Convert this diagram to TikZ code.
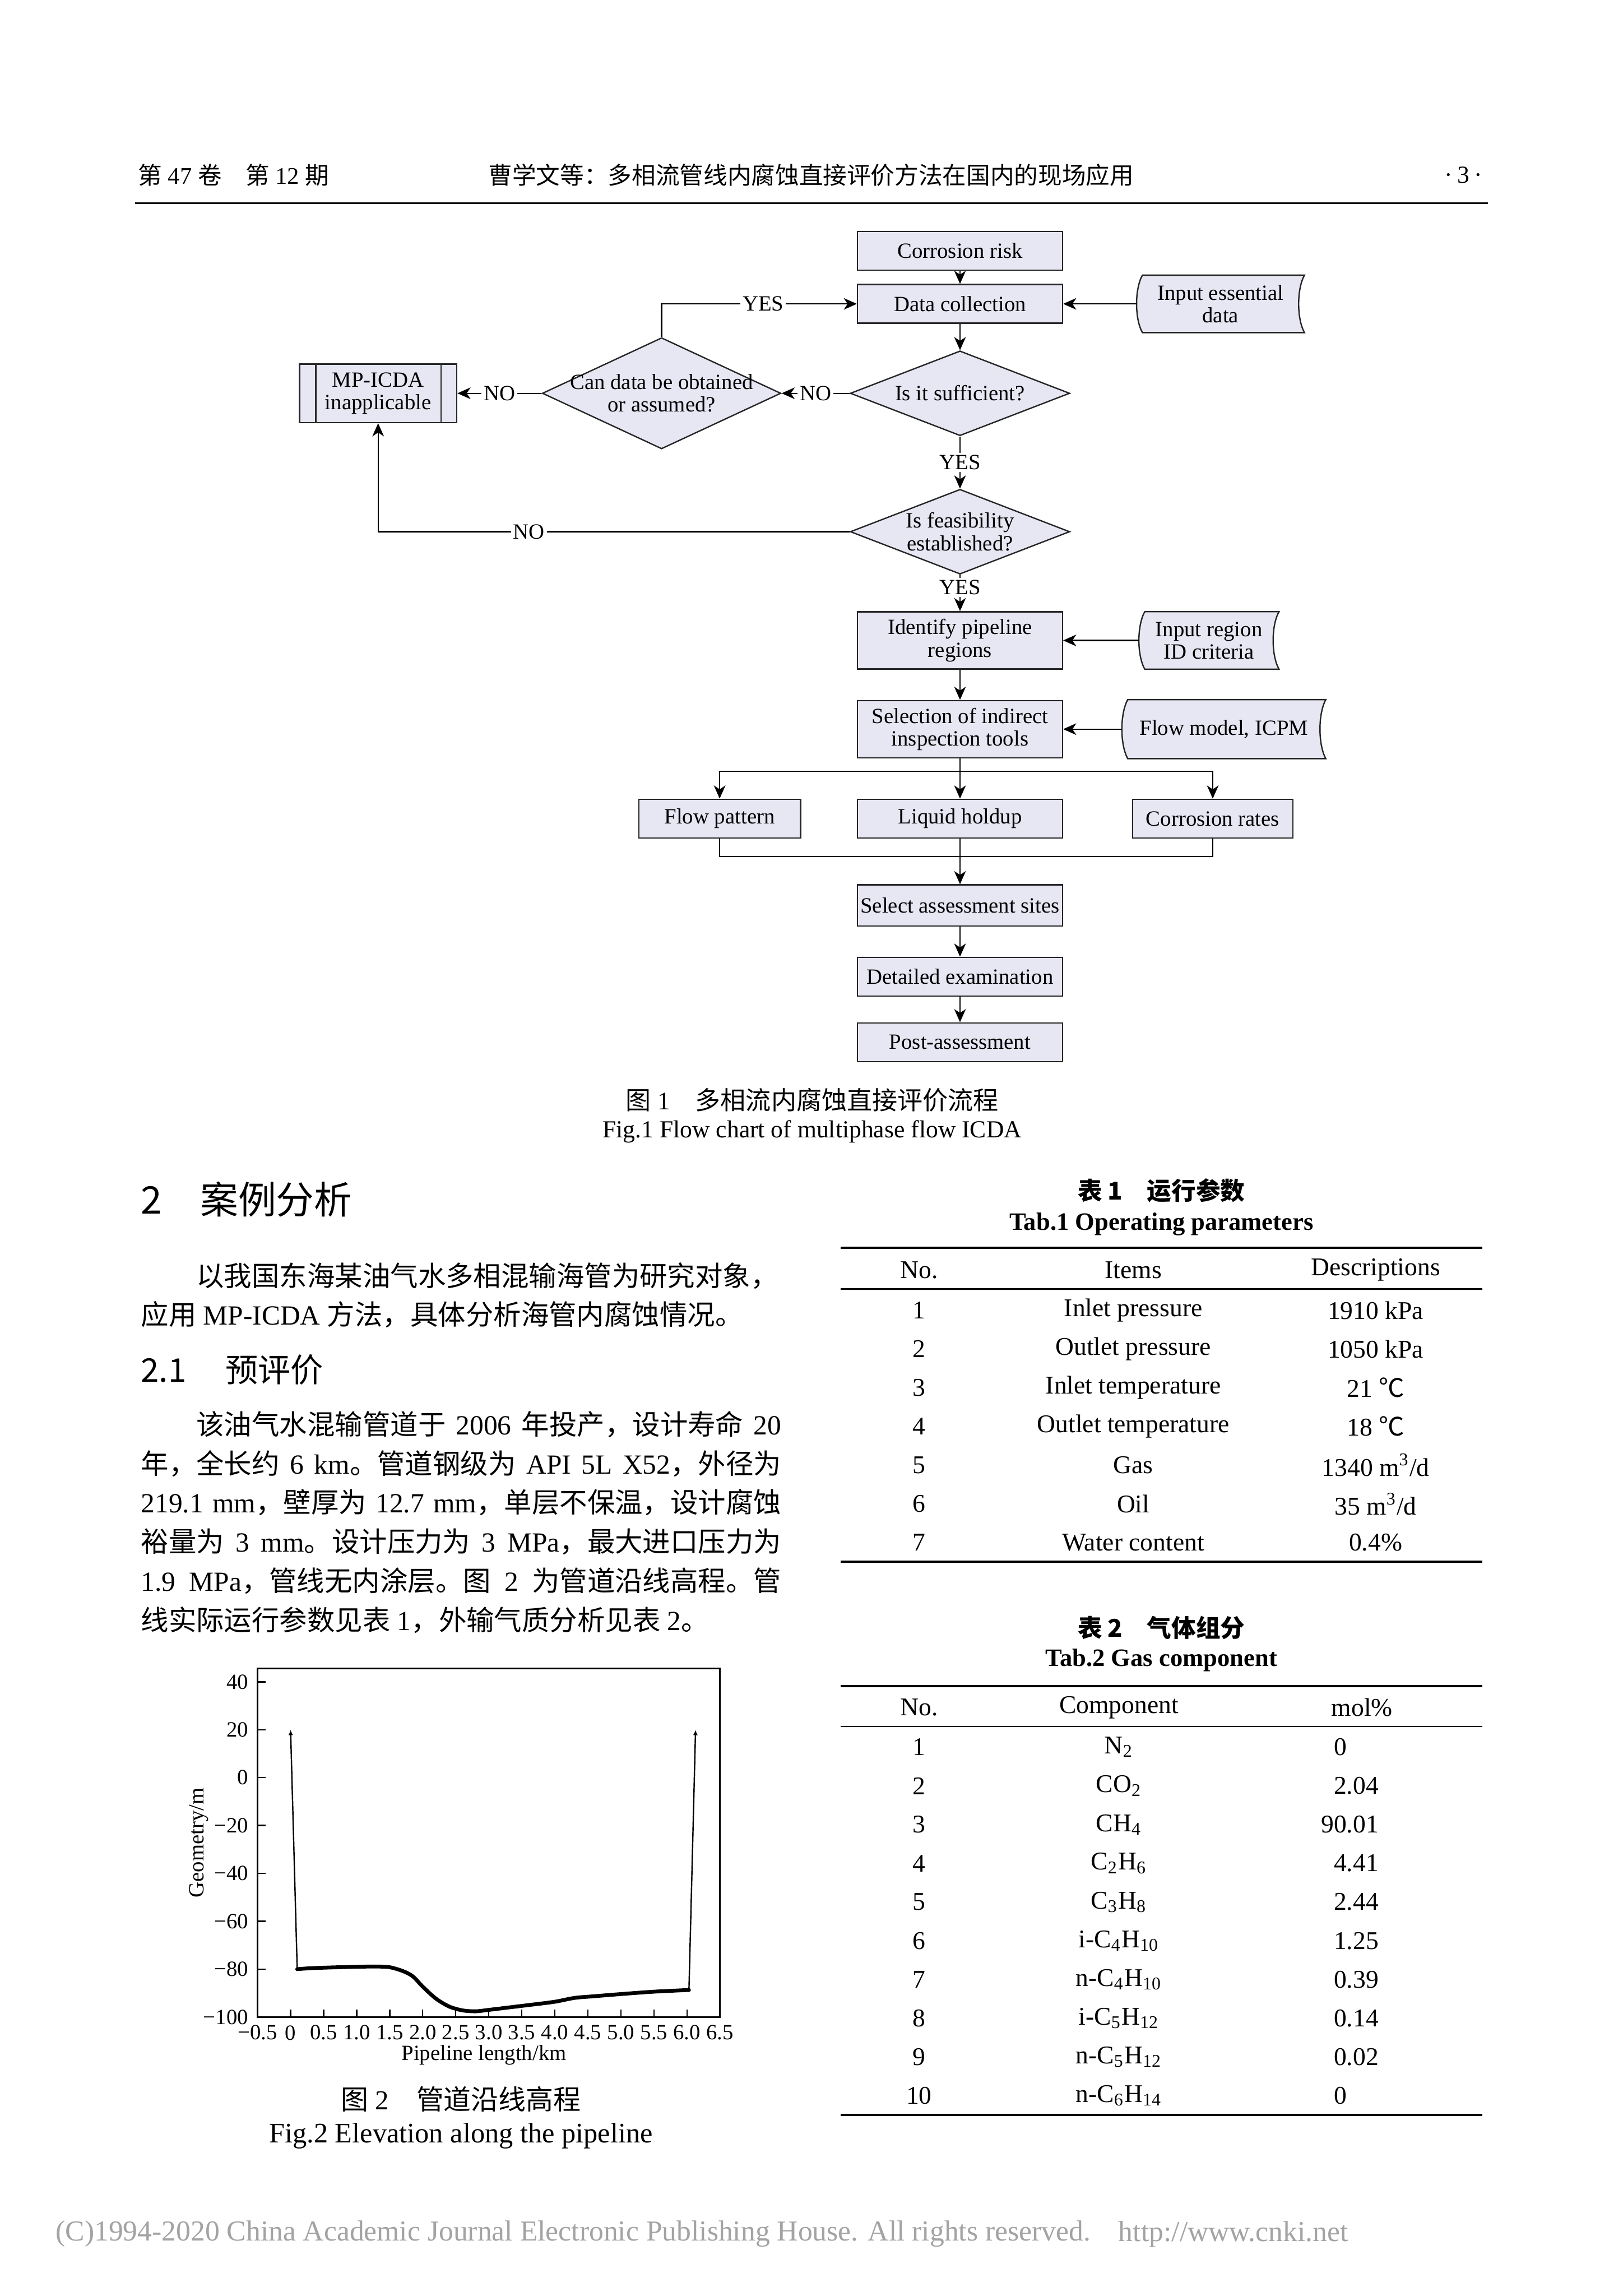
\documentclass[tikz,border=0pt]{standalone}
\usepackage{fontspec}
\setmainfont{Liberation Serif}
\newfontfamily\cjk{Noto Sans CJK SC}
\usetikzlibrary{arrows.meta,positioning,shapes.geometric,calc,backgrounds}
\definecolor{boxFill}{HTML}{E6E7F3}
\definecolor{boxLine}{HTML}{262626}
\definecolor{footGray}{HTML}{A3A3A3}
\newcommand{\zh}[1]{{\cjk #1}}
\newcommand{\flowfont}{\fontsize{8}{8.3}\selectfont}
\newcommand{\bodyfont}{\fontsize{10.2}{12}\selectfont}
\newcommand{\tabfont}{\fontsize{9.4}{11}\selectfont}
\newcommand{\plotfont}{\fontsize{8}{9}\selectfont}
\newlength{\colw}
\setlength{\colw}{8.285cm}
\XeTeXlinebreaklocale "zh"
\XeTeXlinebreakskip=0pt plus 1pt

\begin{document}
\begin{tikzpicture}[x=0.018936cm, y=-0.018936cm,
  procbox/.style={draw=boxLine,fill=boxFill,line width=0.5pt,minimum width=2.651cm,minimum height=0.5cm,inner xsep=0.5pt,inner ysep=1pt,align=center,font=\flowfont},
  twoline/.style={procbox,minimum height=0.74cm},
  decision/.style={diamond,draw=boxLine,fill=boxFill,line width=0.5pt,inner sep=0pt,minimum width=2.84cm,minimum height=1.098cm},
  dlabel/.style={align=center,font=\flowfont,inner sep=0pt},
  inputdata/.style={inner sep=0pt,align=center,font=\flowfont,minimum height=0.73cm},
  flowlbl/.style={fill=white,inner sep=0.8pt,font=\flowfont},
  arrow/.style={-{Stealth[length=1.7mm,width=1.5mm,inset=0.5mm]},line width=0.45pt},
  bodytxt/.style={anchor=west,inner sep=0pt,font=\bodyfont},
  tabtxt/.style={inner sep=0pt,font=\tabfont},
  plotlbl/.style={inner sep=0pt,font=\plotfont}]

  % page
  \useasboundingbox (0,0) rectangle (1109,1568.6);
  \begin{scope}[on background layer]
    \fill[white] (0,0) rectangle (1109,1568.6);
  \end{scope}

  % running head
  \node[anchor=west,inner sep=0pt,font=\fontsize{8.8}{10}\selectfont] (volno) at (94,119.6)
    {\zh{第} 47 \zh{卷}\hspace{1em}\zh{第} 12 \zh{期}};
  \node[anchor=west,inner sep=0pt,font=\fontsize{8.8}{10}\selectfont] (runtitle) at (333.4,119.6)
    {\zh{曹学文等：多相流管线内腐蚀直接评价方法在国内的现场应用}};
  \node[inner sep=0pt,font=\fontsize{9}{10}\selectfont] (pageno) at (1000,119.6) {·\hspace{0.2em}3\hspace{0.2em}·};
  \draw[line width=0.6pt] (92.2,138.7) -- (1016.8,138.7);

  % Fig.1 flow chart
  \node[procbox] (risk) at (656,171.3) {Corrosion risk};
  \node[procbox,below=0.17cm of risk] (collect) {Data collection};
  \node[decision,below=0.34cm of collect,label={[dlabel]center:Is it sufficient?}] (enough) {};
  \node[decision,below=0.675cm of enough,label={[dlabel]center:Is feasibility\\established?}] (feasible) {};
  \node[twoline,below=0.47cm of feasible] (regions) {Identify pipeline\\regions};
  \node[twoline,below=0.39cm of regions] (tools) {Selection of indirect\\inspection tools};
  \node[procbox,below=0.52cm of tools] (holdup) {Liquid holdup};
  \node[procbox,minimum width=2.094cm,left=0.72cm of holdup] (pattern) {Flow pattern};
  \node[procbox,minimum width=2.074cm,right=0.89cm of holdup] (rates) {Corrosion rates};
  \node[procbox,minimum height=0.53cm,below=0.59cm of holdup] (sites) {Select assessment sites};
  \node[procbox,below=0.39cm of sites] (exam) {Detailed examination};
  \node[procbox,below=0.33cm of exam] (post) {Post-assessment};
  \node[decision,minimum width=3.087cm,minimum height=1.439cm,left=0.88cm of enough,
    label={[dlabel]center:Can data be obtained\\or assumed?}] (obtain) {};
  \node[procbox,minimum width=2.034cm,minimum height=0.757cm,left=1.09cm of obtain] (inapp) {MP-ICDA\\inapplicable};
  \node[inputdata,minimum width=2.159cm,right=0.95cm of collect] (essential) {Input essential\\data};
  \node[inputdata,minimum width=1.799cm,right=0.98cm of regions] (idcrit) {Input region\\ID criteria};
  \node[inputdata,minimum width=2.625cm,minimum height=0.75cm,right=0.76cm of tools] (flowmod) {Flow model, ICPM};
  \coordinate[below=0.169cm of tools.south] (split);
  \coordinate[below=0.23cm of holdup.south] (merge);

  % input shapes and double side bars
  \begin{scope}[on background layer]
    \foreach \n in {essential,idcrit,flowmod}
      \filldraw[draw=boxLine,fill=boxFill,line width=0.5pt]
        ([xshift=0.076cm]\n.north west) -- (\n.north east)
        .. controls ([xshift=-0.101cm,yshift=-0.18cm]\n.north east) and ([xshift=-0.101cm,yshift=0.18cm]\n.south east) .. (\n.south east)
        -- ([xshift=0.076cm]\n.south west)
        .. controls ([xshift=-0.025cm,yshift=0.18cm]\n.south west) and ([xshift=-0.025cm,yshift=-0.18cm]\n.north west) .. ([xshift=0.076cm]\n.north west)
        -- cycle;
  \end{scope}
  \draw[boxLine,line width=0.5pt] ([xshift=0.22cm]inapp.north west) -- ([xshift=0.22cm]inapp.south west);
  \draw[boxLine,line width=0.5pt] ([xshift=-0.21cm]inapp.north east) -- ([xshift=-0.21cm]inapp.south east);

  \draw[arrow] (risk) -- (collect);
  \draw[arrow] (collect) -- (enough);
  \draw[arrow] (enough) -- node[flowlbl]{NO} (obtain);
  \draw[arrow] (obtain) -- node[flowlbl]{NO} (inapp);
  \draw[arrow] (obtain.north) |- node[flowlbl,pos=0.76]{YES} (collect.west);
  \draw[arrow] (enough) -- node[flowlbl]{YES} (feasible);
  \draw[arrow] (feasible.west) -| node[flowlbl,pos=0.34]{NO} (inapp.south);
  \draw[arrow] (feasible) -- node[flowlbl,pos=0.35]{YES} (regions);
  \draw[arrow] (essential) -- (collect);
  \draw[arrow] (idcrit) -- (regions);
  \draw[arrow] (flowmod) -- (tools);
  \draw[arrow] (regions) -- (tools);
  \draw[arrow] (tools) -- (holdup);
  \draw[arrow] (split) -| (pattern);
  \draw[arrow] (split) -| (rates);
  \draw[line width=0.45pt] (pattern) |- (merge) -| (rates);
  \draw[arrow] (holdup) -- (sites);
  \draw[arrow] (sites) -- (exam);
  \draw[arrow] (exam) -- (post);

  \node[inner sep=0pt,font=\fontsize{9.3}{11}\selectfont] (cap1zh) at (555,751.4)
    {\zh{图} 1\hspace{1em}\zh{多相流内腐蚀直接评价流程}};
  \node[inner sep=0pt,font=\fontsize{9}{11}\selectfont] (cap1en) at (555,773.3) {Fig.1 Flow chart of multiphase flow ICDA};

  % left column text
  \node[anchor=west,inner sep=0pt,font=\fontsize{14}{16}\selectfont] (sec2) at (96,819.4) {\zh{2\hspace{1em}案例分析}};
  \node[bodytxt] (p1a) at (96,871.5) {\makebox[\colw][s]{\hspace*{2em}\zh{以我国东海某油气水多相混输海管为研究对象，}}};
  \node[bodytxt] (p1b) at (96,898.2) {\zh{应用} MP-ICDA \zh{方法，具体分析海管内腐蚀情况。}};
  \node[anchor=west,inner sep=0pt,font=\fontsize{12}{14}\selectfont] (sec21) at (96,935.8) {\zh{2.1\hspace{1.2em}预评价}};
  \node[bodytxt] (p2a) at (96,973.3) {\makebox[\colw][s]{\hspace*{2em}\zh{该油气水混输管道于} 2006 \zh{年投产，设计寿命} 20}};
  \node[bodytxt] (p2b) at (96,1000) {\makebox[\colw][s]{\zh{年，全长约} 6 km\zh{。管道钢级为} API 5L X52\zh{，外径为}}};
  \node[bodytxt] (p2c) at (96,1026.6) {\makebox[\colw][s]{219.1 mm\zh{，壁厚为} 12.7 mm\zh{，单层不保温，设计腐蚀}}};
  \node[bodytxt] (p2d) at (96,1053.3) {\makebox[\colw][s]{\zh{裕量为} 3 mm\zh{。设计压力为} 3 MPa\zh{，最大进口压力为}}};
  \node[bodytxt] (p2e) at (96,1080) {\makebox[\colw][s]{1.9 MPa\zh{，管线无内涂层。图} 2 \zh{为管道沿线高程。管}}};
  \node[bodytxt] (p2f) at (96,1106.7) {\zh{线实际运行参数见表} 1\zh{，外输气质分析见表} 2\zh{。}};

  % Tab.1
  \node[inner sep=0pt,font=\fontsize{9}{11}\selectfont] (t1zh) at (793.6,813.3) {\zh{\bfseries 表 1\hspace{1em}运行参数}};
  \node[inner sep=0pt,font=\fontsize{9.2}{11}\selectfont\bfseries] (t1en) at (793.6,836.4) {Tab.1 Operating parameters};
  \draw[line width=0.8pt] (574.4,852.5) -- (1012.8,852.5);
  \draw[line width=0.45pt] (574.4,880.6) -- (1012.8,880.6);
  \draw[line width=0.8pt] (574.4,1066.9) -- (1012.8,1066.9);
  \node[tabtxt] (t1hno) at (628,867.6) {No.};
  \node[tabtxt] (t1hit) at (774.4,867.6) {Items};
  \node[tabtxt] (t1hde) at (940,867.6) {Descriptions};
  \foreach \no/\item/\desc [count=\i] in {1/Inlet pressure/1910 kPa, 2/Outlet pressure/1050 kPa,
      3/Inlet temperature/21 \zh{℃}, 4/Outlet temperature/18 \zh{℃}, 5/Gas/{1340 m\textsuperscript{3}/d},
      6/Oil/{35 m\textsuperscript{3}/d}, 7/Water content/0.4\%} {
    \node[tabtxt] (t1no\i) at (628,{895.2+(\i-1)*26.45}) {\no};
    \node[tabtxt] (t1it\i) at (774.4,{895.2+(\i-1)*26.45}) {\item};
    \node[tabtxt] (t1de\i) at (940,{895.2+(\i-1)*26.45}) {\desc};
  }

  % Tab.2
  \node[inner sep=0pt,font=\fontsize{9}{11}\selectfont] (t2zh) at (793.6,1112) {\zh{\bfseries 表 2\hspace{1em}气体组分}};
  \node[inner sep=0pt,font=\fontsize{9.2}{11}\selectfont\bfseries] (t2en) at (793.6,1134.4) {Tab.2 Gas component};
  \draw[line width=0.8pt] (574.4,1151.8) -- (1012.8,1151.8);
  \draw[line width=0.45pt] (574.4,1179.6) -- (1012.8,1179.6);
  \draw[line width=0.8pt] (574.4,1445) -- (1012.8,1445);
  \node[tabtxt] (t2hno) at (628,1166.6) {No.};
  \node[tabtxt] (t2hco) at (764.6,1166.6) {Component};
  \node[tabtxt] (t2hmo) at (930.7,1166.6) {mol\%};
  \foreach \no/\comp/\val [count=\i] in {1/N\textsubscript{2}/0\phantom{.00}, 2/CO\textsubscript{2}/2.04,
      3/CH\textsubscript{4}/90.01, 4/C\textsubscript{2}H\textsubscript{6}/4.41, 5/C\textsubscript{3}H\textsubscript{8}/2.44,
      6/i-C\textsubscript{4}H\textsubscript{10}/1.25, 7/n-C\textsubscript{4}H\textsubscript{10}/0.39,
      8/i-C\textsubscript{5}H\textsubscript{12}/0.14, 9/n-C\textsubscript{5}H\textsubscript{12}/0.02,
      10/n-C\textsubscript{6}H\textsubscript{14}/0\phantom{.00}} {
    \node[tabtxt] (t2no\i) at (628,{1193.6+(\i-1)*26.46}) {\no};
    \node[tabtxt] (t2co\i) at (764.6,{1193.6+(\i-1)*26.46}) {\comp};
    \node[tabtxt,anchor=east] (t2mo\i) at (942.4,{1193.6+(\i-1)*26.46}) {\val};
  }

  % Fig.2 elevation plot
  \begin{scope}[shift={(198.57,1214.43)},x=0.8548cm,y=0.030974cm]
    \draw[line width=0.6pt] (-0.5,-100) rectangle (6.5,45.5);
    \foreach \t in {0,0.5,...,6}
      \draw[line width=0.5pt] (\t,-100) -- (\t,-96.9);
    \foreach \v in {-80,-60,...,40}
      \draw[line width=0.5pt] (-0.5,\v) -- (-0.374,\v);
    \foreach \t/\s in {-0.5/−0.5,0/0,0.5/0.5,1/1.0,1.5/1.5,2/2.0,2.5/2.5,3/3.0,3.5/3.5,4/4.0,4.5/4.5,5/5.0,5.5/5.5,6/6.0,6.5/6.5}
      \node[plotlbl] (xl\t) at ([yshift=-0.203cm]\t,-100) {\s};
    \foreach \v/\s in {40/40,20/20,0/0,-20/−20,-40/−40,-60/−60,-80/−80,-100/−100}
      \node[plotlbl,anchor=east] (yl\v) at ([xshift=-0.114cm]-0.5,\v) {\s};
    \draw[line width=1.4pt,line join=round,line cap=round] plot[smooth,tension=0.5] coordinates {
      (0.1,-80) (0.3,-79.6) (0.6,-79.3) (1.0,-79.0) (1.3,-78.9) (1.5,-79.2) (1.7,-80.8) (1.85,-83)
      (2.0,-87.3) (2.2,-92.3) (2.4,-95.6) (2.6,-97.2) (2.8,-97.6) (3.0,-97.0) (3.3,-96.0) (3.6,-95.0)
      (4.0,-93.6) (4.3,-92.0) (4.6,-91.3) (5.0,-90.4) (5.5,-89.4) (6.03,-88.7)};
    \draw[line width=0.5pt,-{Latex[length=0.7mm,width=0.6mm]}] (0.1,-80) -- (0,20);
    \draw[line width=0.5pt,-{Latex[length=0.7mm,width=0.6mm]}] (6.03,-88.7) -- (6.13,20);
  \end{scope}
  \node[plotlbl,rotate=90] (ytitle) at (136,1259) {Geometry/m};
  \node[plotlbl] (xtitle) at (330.7,1404) {Pipeline length/km};
  \node[inner sep=0pt,font=\fontsize{10.1}{12}\selectfont] (cap2zh) at (315,1434)
    {\zh{图} 2\hspace{1em}\zh{管道沿线高程}};
  \node[inner sep=0pt,font=\fontsize{10.4}{12}\selectfont] (cap2en) at (315,1459.4) {Fig.2 Elevation along the pipeline};

  % footer
  \node[anchor=west,inner sep=0pt,text=footGray,font=\fontsize{10.65}{12}\selectfont] (copyr) at (37.7,1526.3)
    {(C)1994-2020 China Academic Journal Electronic Publishing House. All rights reserved.};
  \node[anchor=west,inner sep=0pt,text=footGray,font=\fontsize{10.65}{12}\selectfont] (url) at (764,1526.3)
    {http://www.cnki.net};
\end{tikzpicture}
\end{document}
